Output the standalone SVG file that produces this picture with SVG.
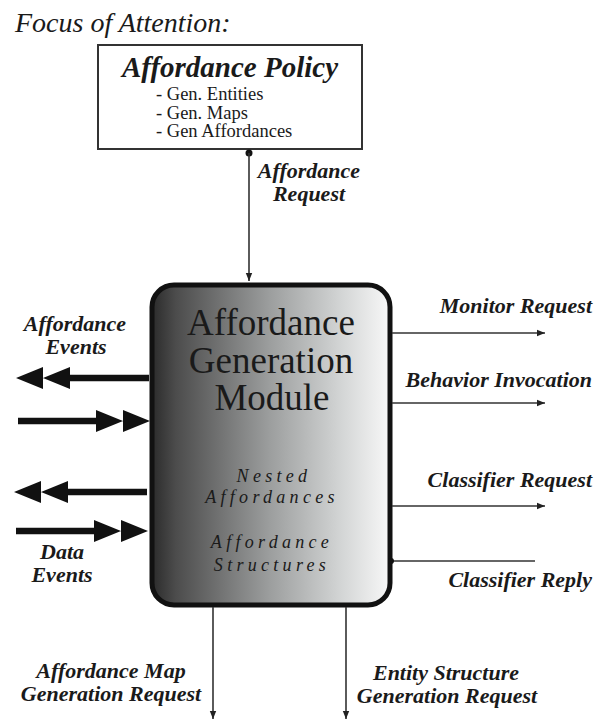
<svg xmlns="http://www.w3.org/2000/svg" width="596" height="720" viewBox="0 0 596 720">
  <style>
    .serif { font-family: 'Liberation Serif', 'DejaVu Serif', serif; fill: #1a1a1a; }
    .label { font-family: 'Liberation Serif', 'DejaVu Serif', serif; font-weight: bold; font-style: italic; font-size: 22px; fill: #1a1a1a; }
    .thin { stroke: #333; stroke-width: 1.6; fill: none; }
    .thick { stroke: #111; stroke-width: 6.5; fill: none; }
  </style>
  <defs>
    <linearGradient id="moduleFill" x1="0" y1="0" x2="1" y2="0">
      <stop offset="0" stop-color="#2b2b2b"/>
      <stop offset="0.1" stop-color="#4c4c4c"/>
      <stop offset="0.5" stop-color="#9d9f9f"/>
      <stop offset="0.8" stop-color="#d4d6d6"/>
      <stop offset="1" stop-color="#f8f8f8"/>
    </linearGradient>
    <marker id="tip" viewBox="0 0 10 10" refX="10" refY="5" markerWidth="10" markerHeight="8" markerUnits="userSpaceOnUse" orient="auto">
      <path d="M0,1 L10,5 L0,9 Z" fill="#222"/>
    </marker>
    <!-- double arrowhead used on the thick event flows -->
    <path id="dblHead" d="M0,0 L27,11 L0,22 Z M27,0 L54,11 L27,22 Z" fill="#111"/>
  </defs>

  <!-- heading -->
  <text class="serif" x="15" y="32" font-size="28" font-style="italic">Focus of Attention:</text>

  <!-- policy node -->
  <g id="policy">
    <rect x="98" y="45" width="264" height="104" fill="#fff" stroke="#333" stroke-width="2"/>
    <text class="serif" x="230" y="77" font-size="29" font-weight="bold" font-style="italic" text-anchor="middle">Affordance Policy</text>
    <text class="serif" font-size="18.5"><tspan x="156" y="100">- Gen. Entities</tspan><tspan x="156" y="118.5">- Gen. Maps</tspan><tspan x="156" y="137">- Gen Affordances</tspan></text>
  </g>

  <!-- module node -->
  <g id="module">
    <rect x="152" y="285" width="238" height="320" rx="22" ry="22" fill="url(#moduleFill)" stroke="#111" stroke-width="5"/>
    <text class="serif" font-size="37" text-anchor="middle"><tspan x="271" y="335">Affordance</tspan><tspan x="271" y="373">Generation</tspan><tspan x="272" y="410">Module</tspan></text>
    <text class="serif" font-size="18" font-style="italic" letter-spacing="4.3" text-anchor="middle"><tspan x="274" y="482">Nested</tspan><tspan x="272" y="503">Affordances</tspan></text>
    <text class="serif" font-size="18" font-style="italic" letter-spacing="4.3" text-anchor="middle"><tspan x="272" y="548">Affordance</tspan><tspan x="272" y="571">Structures</tspan></text>
  </g>

  <!-- connectors -->
  <g id="connectors">
    <!-- request from policy -->
    <circle cx="249" cy="153" r="3.5" fill="#111"/>
    <line class="thin" x1="249" y1="153" x2="249" y2="281" marker-end="url(#tip)"/>

    <!-- outgoing requests on the right -->
    <line class="thin" x1="392" y1="333" x2="545" y2="333" marker-end="url(#tip)"/>
    <line class="thin" x1="392" y1="403" x2="545" y2="403" marker-end="url(#tip)"/>
    <line class="thin" x1="392" y1="506" x2="545" y2="506" marker-end="url(#tip)"/>
    <!-- reply coming back in -->
    <line class="thin" x1="391" y1="561" x2="535" y2="561"/>
    <circle cx="391" cy="561" r="3" fill="#111"/>

    <!-- downward requests -->
    <line class="thin" x1="213" y1="607" x2="213" y2="719" marker-end="url(#tip)"/>
    <line class="thin" x1="346" y1="607" x2="346" y2="719" marker-end="url(#tip)"/>

    <!-- thick event flows on the left -->
    <line class="thick" x1="149" y1="378" x2="60" y2="378"/>
    <use href="#dblHead" transform="translate(70,389) rotate(180)"/>
    <line class="thick" x1="18" y1="421" x2="110" y2="421"/>
    <use href="#dblHead" transform="translate(96,410)"/>
    <line class="thick" x1="147" y1="492" x2="58" y2="492"/>
    <use href="#dblHead" transform="translate(68,503) rotate(180)"/>
    <line class="thick" x1="16" y1="531" x2="108" y2="531"/>
    <use href="#dblHead" transform="translate(94,520)"/>
  </g>

  <!-- connector labels -->
  <g id="labels">
    <text class="label" text-anchor="middle"><tspan x="309" y="178">Affordance</tspan><tspan x="309" y="201">Request</tspan></text>
    <text class="label" text-anchor="middle"><tspan x="75" y="331">Affordance</tspan><tspan x="76" y="354">Events</tspan></text>
    <text class="label" text-anchor="middle"><tspan x="62" y="559">Data</tspan><tspan x="62" y="582">Events</tspan></text>
    <text class="label" x="592" y="313" text-anchor="end">Monitor Request</text>
    <text class="label" x="592" y="387" text-anchor="end">Behavior Invocation</text>
    <text class="label" x="592" y="487" text-anchor="end">Classifier Request</text>
    <text class="label" x="592" y="587" text-anchor="end">Classifier Reply</text>
    <text class="label" text-anchor="middle"><tspan x="111" y="678">Affordance Map</tspan><tspan x="111" y="701">Generation Request</tspan></text>
    <text class="label" text-anchor="middle"><tspan x="446" y="680">Entity Structure</tspan><tspan x="447" y="703">Generation Request</tspan></text>
  </g>
</svg>
